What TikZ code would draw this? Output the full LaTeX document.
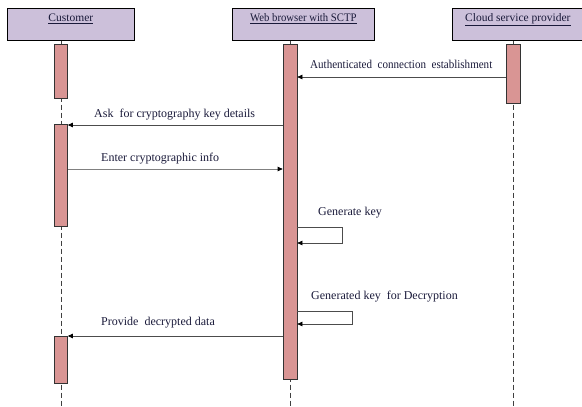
\documentclass[tikz,border=0pt]{standalone}
\usepackage{fontspec}
\setmainfont{Liberation Serif}
\usetikzlibrary{arrows.meta}
\definecolor{headfill}{HTML}{CCC0DA}
\definecolor{barfill}{HTML}{D99594}
\definecolor{inkblue}{HTML}{1A1A3A}
\begin{document}
\begin{tikzpicture}[x=1pt,y=-1pt,
  actor/.style={draw=black, fill=headfill, line width=0.7pt, inner sep=0pt,
    minimum height=32pt, anchor=north west, text height=7.5pt, text depth=12.5pt,
    font=\fontsize{11.5}{13}\selectfont, text=inkblue},
  lifeline/.style={draw=black!75, line width=0.6pt, dash pattern=on 5pt off 3pt},
  actbar/.style={draw=black!80, fill=barfill, line width=0.7pt, inner sep=0pt,
    minimum width=13pt, anchor=north},
  msg/.style={draw=black!70, line width=0.7pt,
    -{Triangle[length=5pt,width=4.5pt,color=black]}},
  msglabel/.style={anchor=base west, inner sep=0pt,
    font=\fontsize{12}{14}\selectfont, text=inkblue}]
\useasboundingbox (0,0) rectangle (582,407);

% participants
\node[actor, minimum width=127pt] (cust)  at (7,8)   {\underline{Customer}};
\node[actor, minimum width=142pt] (web)   at (232,8) {\scalebox{0.93}[1]{\underline{Web browser with SCTP}}};
\node[actor, minimum width=131pt] (cloud) at (452,8) {\underline{Cloud service provider}};

% lifelines
\draw[lifeline] (cust.south -| 61,0) -- (61,407);
\draw[lifeline] (web.south -| 290,0) -- (290,407);
\draw[lifeline] (cloud.south -| 513,0) -- (513,407);

% activation bars
\node[actbar, minimum height=54pt]  (cb1) at (61,44)  {};
\node[actbar, minimum height=102pt] (cb2) at (61,124) {};
\node[actbar, minimum height=47pt]  (cb3) at (61,336) {};
\node[actbar, minimum width=14pt, minimum height=335pt] (wb) at (290,44) {};
\node[actbar, minimum width=14pt, minimum height=59pt]  (sb) at (513,44) {};

% message levels
\coordinate (m1) at (0,77);
\coordinate (m2) at (0,125);
\coordinate (m3) at (0,169);
\coordinate (m4a) at (0,227);
\coordinate (m4b) at (0,243);
\coordinate (m5a) at (0,311);
\coordinate (m5b) at (0,324);
\coordinate (m6) at (0,336);
\coordinate (loopA) at (342,0);
\coordinate (loopB) at (352,0);

% messages
\draw[msg] (sb.west |- m1) -- (wb.east |- m1);
\draw[msg] (wb.west |- m2) -- (cb2.east |- m2);
\draw[msg, draw=black!50] (cb2.east |- m3) -- (wb.west |- m3);
\draw[msg] (wb.east |- m4a) -- (loopA |- m4a) -- (loopA |- m4b) -- (wb.east |- m4b);
\draw[msg] (wb.east |- m5a) -- (loopB |- m5a) -- (loopB |- m5b) -- (wb.east |- m5b);
\draw[msg] (wb.west |- m6) -- (cb3.east |- m6);

% message labels
\node[msglabel] (l1) at (310,68)  {\scalebox{0.92}[1]{Authenticated\ \ connection\ \ establishment}};
\node[msglabel] (l2) at (94,117)  {Ask\ \ for cryptography key details};
\node[msglabel] (l3) at (101,161) {Enter cryptographic info};
\node[msglabel] (l4) at (318,215) {Generate key};
\node[msglabel] (l5) at (311,299) {Generated key\ \ for Decryption};
\node[msglabel] (l6) at (101,325) {Provide\ \ decrypted data};
\end{tikzpicture}
\end{document}
